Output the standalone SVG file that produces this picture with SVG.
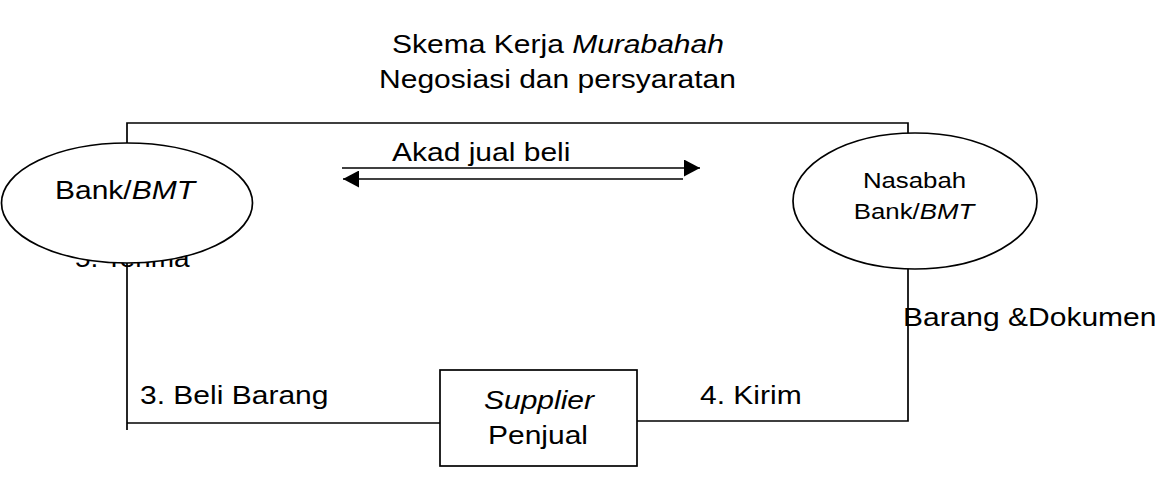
<svg xmlns="http://www.w3.org/2000/svg" width="1155" height="479" viewBox="0 0 1155 479">
  <style>
    .ln { fill: none; stroke: #000; stroke-width: 1.7; }
    .shape { fill: #fff; stroke: #000; stroke-width: 1.7; }
    .t { font-family: "Liberation Sans", Arial, sans-serif; font-size: 25px; fill: #000; }
    .s { font-size: 21.5px; }
    .m { text-anchor: middle; }
    .i { font-style: italic; }
  </style>
  <defs>
    <marker id="ah" viewBox="0 0 16 17" refX="16" refY="8.5" markerWidth="16" markerHeight="17" markerUnits="userSpaceOnUse" orient="auto">
      <path d="M0,0 L16,8.5 L0,17 Z" fill="#000"/>
    </marker>
  </defs>
  <rect width="1155" height="479" fill="#fff"/>

  <g id="title">
    <text class="t m" transform="translate(558,53) scale(1.2,1)">Skema Kerja <tspan class="i">Murabahah</tspan></text>
    <text class="t m" transform="translate(557.5,88) scale(1.2,1)">Negosiasi dan persyaratan</text>
  </g>

  <g id="connectors">
    <polyline class="ln" points="127,145 127,123 908,123 908,135"/>
    <polyline class="ln" points="127,262 127,430"/>
    <line class="ln" x1="127" y1="423" x2="440" y2="423"/>
    <polyline class="ln" points="637,421 908,421 908,268"/>
    <line class="ln" x1="342" y1="168" x2="700" y2="168" marker-end="url(#ah)"/>
    <line class="ln" x1="683" y1="179" x2="343" y2="179" marker-end="url(#ah)"/>
  </g>

  <g id="connector-labels">
    <text class="t" transform="translate(392,161) scale(1.2,1)">Akad jual beli</text>
    <text class="t" transform="translate(140,404) scale(1.2,1)">3. Beli Barang</text>
    <text class="t" transform="translate(700,404) scale(1.2,1)">4. Kirim</text>
    <text class="t" transform="translate(75,267) scale(1.12,1)">5. Terima</text>
  </g>

  <g id="bank">
    <ellipse class="shape" cx="127" cy="203" rx="125.5" ry="60"/>
    <text class="t m" transform="translate(125,199) scale(1.2,1)">Bank/<tspan class="i">BMT</tspan></text>
  </g>

  <g id="nasabah">
    <ellipse class="shape" cx="915" cy="201" rx="122" ry="68"/>
    <text class="t s m" transform="translate(914.5,188) scale(1.2,1)">Nasabah</text>
    <text class="t s m" transform="translate(914,219) scale(1.2,1)">Bank/<tspan class="i">BMT</tspan></text>
  </g>

  <g id="supplier">
    <rect class="shape" x="440" y="370" width="197" height="96"/>
    <text class="t m i" transform="translate(539,409) scale(1.2,1)">Supplier</text>
    <text class="t m" transform="translate(538,444) scale(1.2,1)">Penjual</text>
  </g>

  <g id="doc-label">
    <text class="t" transform="translate(903,326) scale(1.2,1)">Barang &amp;Dokumen</text>
  </g>
</svg>
